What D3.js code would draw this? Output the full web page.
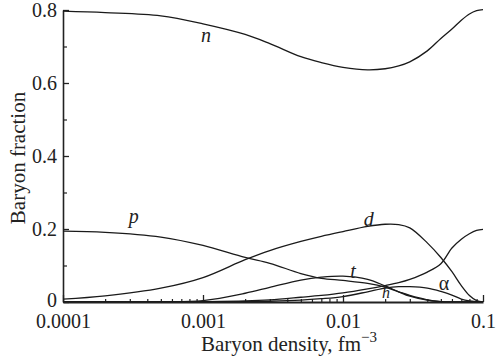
<!DOCTYPE html>
<html>
<head>
<meta charset="utf-8">
<script src="https://cdn.jsdelivr.net/npm/d3@7"></script>
<style>
  body { margin: 0; background: #fff; }
  text { font-family: "Liberation Serif", "DejaVu Serif", serif; fill: #222; }
</style>
</head>
<body>
<svg id="chart" width="496" height="364"></svg>
<script>
// baryon density grid, fm^-3
const density = [0.0001, 0.0002, 0.0005, 0.001, 0.002, 0.003, 0.005, 0.007, 0.01, 0.015,
                 0.02, 0.025, 0.03, 0.04, 0.05, 0.06, 0.07, 0.08, 0.09, 0.1]

// fractions
const nFrac = [0.797, 0.793, 0.784, 0.762, 0.733, 0.708, 0.672, 0.656, 0.643, 0.636,
               0.639, 0.647, 0.658, 0.688, 0.722, 0.748, 0.772, 0.789, 0.798, 0.801]
const pFrac = [0.194, 0.191, 0.178, 0.155, 0.122, 0.106, 0.078, 0.065, 0.059, 0.051,
               0.041, 0.028, 0.018, 0.006, 0.001, 0, 0, 0, 0, 0]
const dFrac = [0.008, 0.017, 0.038, 0.067, 0.116, 0.141, 0.166, 0.18, 0.193, 0.207,
               0.213, 0.212, 0.203, 0.162, 0.122, 0.083, 0.045, 0.018, 0.004, 0]
const tFrac = [0, 0, 0.0005, 0.004, 0.024, 0.04, 0.06, 0.068, 0.071, 0.062,
               0.044, 0.028, 0.016, 0.005, 0.001, 0, 0, 0, 0, 0]
const hFrac = [0, 0, 0, 0, 0.001, 0.002, 0.005, 0.009, 0.015, 0.028,
               0.038, 0.042, 0.042, 0.038, 0.029, 0.019, 0.008, 0.003, 0.001, 0]
const alphaFrac = [0, 0, 0, 0.001, 0.003, 0.006, 0.013, 0.018, 0.025, 0.036,
                   0.045, 0.053, 0.062, 0.082, 0.105, 0.148, 0.172, 0.187, 0.196, 0.199]

const series = [nFrac, pFrac, dFrac, tFrac, hFrac, alphaFrac]

const xTicks = [0.0001, 0.001, 0.01, 0.1]
const xTickLabels = ["0.0001", "0.001", "0.01", "0.1"]
const yTicks = [0, 0.2, 0.4, 0.6, 0.8]
const yTickLabels = ["0", "0.2", "0.4", "0.6", "0.8"]

// curve labels: name, density, fraction (text baseline)
const curveLabels = [
    {name: "n", x: 0.00105, y: 0.712, italic: true, size: 20},
    {name: "p", x: 0.00032, y: 0.216, italic: true, size: 20},
    {name: "d", x: 0.0153, y: 0.208, italic: true, size: 20},
    {name: "t", x: 0.0118, y: 0.066, italic: true, size: 20},
    {name: "h", x: 0.0203, y: 0.011, italic: true, size: 16},
    {name: "\u03b1", x: 0.0526, y: 0.033, italic: false, size: 20}
]

const margin = {top: 10, bottom: 62, left: 63, right: 13}
const width = 496, height = 364

const svg = d3.select("#chart")

let x = d3.scaleLog().domain([0.0001, 0.1]).range([margin.left, width - margin.right])
let y = d3.scaleLinear().domain([0, 0.8]).range([height - margin.bottom, margin.top])

// keep the curves inside the frame
svg.append("clipPath").attr("id", "plot-clip")
    .append("rect")
    .attr("x", x(0.0001)).attr("y", y(0.8) - 5)
    .attr("width", x(0.1) - x(0.0001) + 2)
    .attr("height", y(0) - y(0.8) + 5)

// minor ticks first so the major ones sit on top
let xMinor = []
for (let dec = 0.0001; dec < 0.1; dec *= 10) {
    for (let k = 2; k <= 9; k++) xMinor.push(+(k * dec).toPrecision(3))
}
svg.append("g")
    .attr("transform", `translate(0, ${y(0)})`)
    .call(d3.axisBottom(x).tickValues(xMinor).tickFormat("").tickSize(-3).tickSizeOuter(0))
    .call(g => g.select(".domain").remove())
    .selectAll("line").attr("stroke", "#222").attr("stroke-width", 1.2)

svg.append("g")
    .attr("transform", `translate(${x(0.0001)}, 0)`)
    .call(d3.axisLeft(y).tickValues([0.1, 0.3, 0.5, 0.7]).tickFormat("").tickSize(-4).tickSizeOuter(0))
    .call(g => g.select(".domain").remove())
    .selectAll("line").attr("stroke", "#222").attr("stroke-width", 1.2)

let xAxis = svg.append("g")
    .attr("transform", `translate(0, ${y(0)})`)
    .call(d3.axisBottom(x).tickValues(xTicks)
        .tickFormat((d, i) => xTickLabels[i])
        .tickSize(-7).tickSizeOuter(0).tickPadding(12))
xAxis.select(".domain").attr("stroke", "#222").attr("stroke-width", 2)
xAxis.selectAll("line").attr("stroke", "#222").attr("stroke-width", 1.3)
xAxis.selectAll("text").attr("font-size", 20).attr("font-family", "Liberation Serif").attr("fill", "#222")

let yAxis = svg.append("g")
    .attr("transform", `translate(${x(0.0001)}, 0)`)
    .call(d3.axisLeft(y).tickValues(yTicks)
        .tickFormat((d, i) => yTickLabels[i])
        .tickSize(-6).tickSizeOuter(0).tickPadding(6))
yAxis.select(".domain").attr("stroke", "#222").attr("stroke-width", 1.6)
yAxis.selectAll("line").attr("stroke", "#222").attr("stroke-width", 1.3)
yAxis.selectAll("text").attr("font-size", 20).attr("font-family", "Liberation Serif").attr("fill", "#222")
    .attr("dy", d => d === 0 ? "0.2em" : "0.32em")

// curves
let line = d3.line()
    .x((d, i) => x(density[i]))
    .y(d => y(d))
    .curve(d3.curveCatmullRom.alpha(0.5))

svg.append("g").attr("clip-path", "url(#plot-clip)")
    .selectAll("path").data(series).join("path")
    .attr("d", d => line(d))
    .attr("fill", "none")
    .attr("stroke", "#1a1a1a")
    .attr("stroke-width", 1.3)

// curve names
svg.append("g").selectAll("text").data(curveLabels).join("text")
    .attr("x", d => x(d.x))
    .attr("y", d => y(d.y))
    .attr("text-anchor", "middle")
    .attr("font-size", d => d.size)
    .attr("font-style", d => d.italic ? "italic" : "normal")
    .text(d => d.name)

// axis titles
let xTitle = svg.append("text")
    .attr("x", 289)
    .attr("y", 351)
    .attr("text-anchor", "middle")
    .attr("font-size", 21)
xTitle.append("tspan").text("Baryon density, fm")
xTitle.append("tspan").attr("dy", -9).attr("font-size", 15).text("\u22123")

svg.append("text")
    .attr("transform", `translate(25, 158) rotate(-90)`)
    .attr("text-anchor", "middle")
    .attr("font-size", 21)
    .text("Baryon fraction")
</script>
</body>
</html>
